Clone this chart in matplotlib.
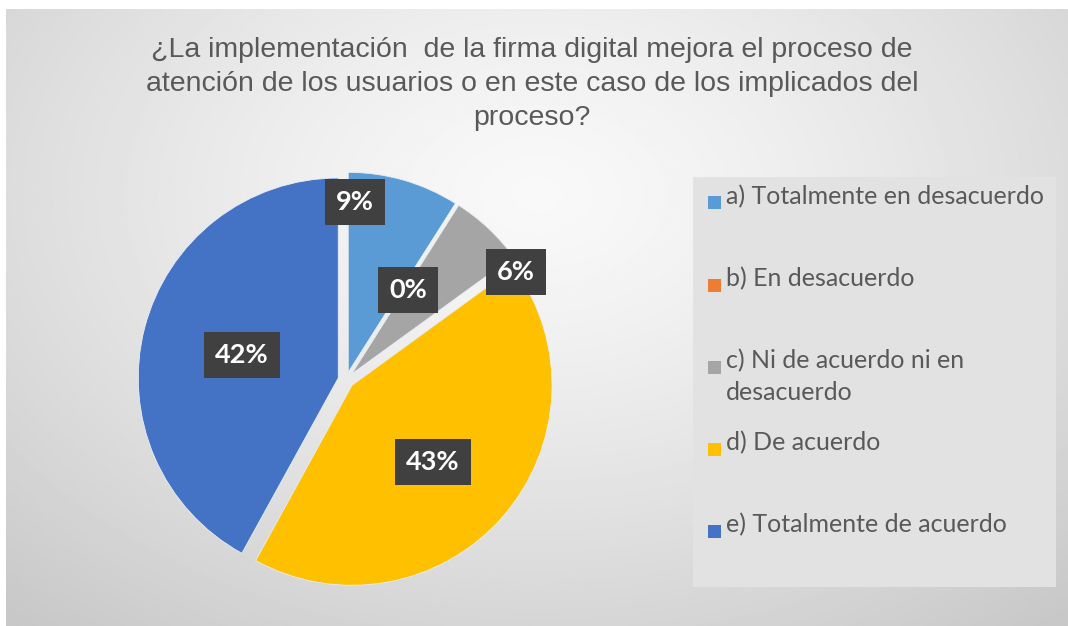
import numpy as np
import matplotlib.pyplot as plt
from matplotlib.patches import Rectangle

# datos de la encuesta
categorias = ['a) Totalmente en desacuerdo', 'b) En desacuerdo',
              'c) Ni de acuerdo ni en\ndesacuerdo', 'd) De acuerdo',
              'e) Totalmente de acuerdo']
porcentajes = [9, 0, 6, 43, 42]
colores = ['#5B9BD5', '#ED7D31', '#A5A5A5', '#FFC000', '#4472C4']
titulo = ('¿La implementación  de la firma digital mejora el proceso de\n'
          'atención de los usuarios o en este caso de los implicados del\n'
          'proceso?')

# posiciones de las etiquetas (movidas a mano como en excel)
pos_etiquetas = [(0.045, 0.89), (0.31, 0.45), (0.85, 0.54), (0.435, -0.41), (-0.52, 0.125)]

W, H = 1068, 626
fig = plt.figure(figsize=(W / 100, H / 100), dpi=100)
fig.patch.set_facecolor('white')

# fondo con degradado radial
bg = fig.add_axes([6/W, 0, 1 - 6/W, 1 - 9/H])
yy, xx = np.mgrid[0:1:300j, 0:1:500j]
d = np.sqrt(((xx - 0.5) / 0.75) ** 2 + ((yy - 0.3) / 0.9) ** 2)
grad = 0.975 - 0.19 * np.clip(d, 0, 1) ** 1.3
bg.imshow(grad, cmap='gray', vmin=0, vmax=1, aspect='auto', extent=[0, 1, 0, 1], origin='upper')
bg.axis('off')

fig.text(0.498, 1 - 84/H, titulo, ha='center', va='center', fontsize=20.5,
         family='Liberation Sans', color='#595959', linespacing=1.38)

# caja de la leyenda
fig.patches.append(Rectangle((693/W, 1 - 587/H), 363/W, 410/H,
                             transform=fig.transFigure, facecolor='#e2e2e2',
                             edgecolor='none', zorder=1))

ax = fig.add_axes([126/W, 26/H, 440/W, 440/H])
wedges, _ = ax.pie(porcentajes, colors=colores, startangle=90, counterclock=False,
                   explode=[0.04] * 5, radius=1,
                   wedgeprops=dict(edgecolor='#e8eef5', linewidth=0.6))
ax.set_xlim(-1.1, 1.1)
ax.set_ylim(-1.1, 1.1)
ax.set_aspect('equal')

for p, (x, y) in zip(porcentajes, pos_etiquetas):
    ax.text(x, y, f'{p}%', ha='center', va='center', color='white', fontsize=19.5,
            fontweight='bold', family='Lato',
            bbox=dict(boxstyle='square,pad=0.4', facecolor='#404040', edgecolor='none'))

# leyenda a mano: cada entrada ocupa el mismo hueco, como en excel
for i, (lab, col) in enumerate(zip(categorias, colores)):
    yc = 203 + i * 82
    fig.patches.append(Rectangle((708/W, 1 - (yc + 6.5)/H), 13/W, 13/H,
                                 transform=fig.transFigure, facecolor=col,
                                 edgecolor='none', zorder=2))
    fig.text(726/W, 1 - (yc - 18)/H, lab, ha='left', va='top', fontsize=18,
             family='Lato', color='#595959', linespacing=1.45, zorder=3)

fig.savefig('out.png', dpi=100)
